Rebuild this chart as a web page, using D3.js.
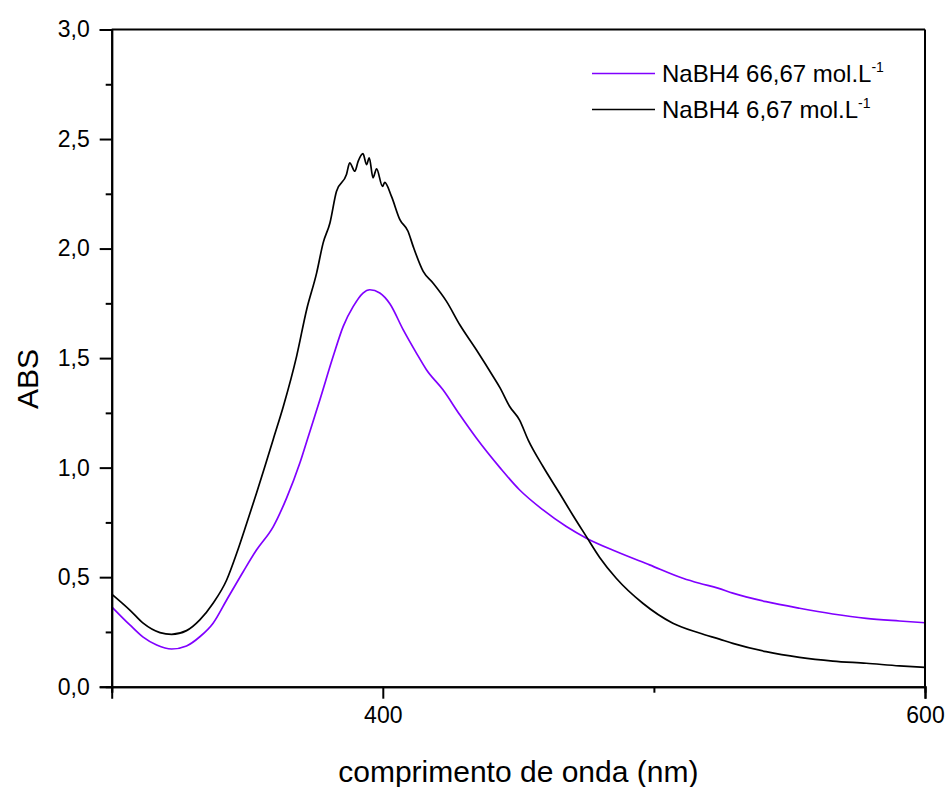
<!DOCTYPE html>
<html>
<head>
<meta charset="utf-8">
<script src="https://cdn.jsdelivr.net/npm/d3@7"></script>
<style>
  body { margin: 0; background: #fff; }
  text { font-family: Arial, "Liberation Sans", sans-serif; fill: #000; }
</style>
</head>
<body>
<div id="chart"></div>
<script>
// wavelength (nm) and absorbance
var wlBlack = [300,306.7,311.6,317.8,322.1,327.6,332.5,337.4,342.4,346.1,349.8,353.4,356.5,359.6,363.3,368.2,371.9,375.6,378.0,380.5,382.9,386.6,387.8,389.7,390.9,392.7,394.0,395.0,396.4,397.7,399.9,400.7,403.2,406.3,409.3,411.2,414.9,418.5,423.5,428.4,434.5,440.7,443.2,446.8,450.4,453.6,459.1,465.2,470.0,475.1,480.0,486.1,495.9,507.0,516.8,524.2,529.1,541.4,553.7,566.0,578.3,590.6,600]
var absBlack = [0.423,0.35,0.29,0.247,0.239,0.256,0.305,0.381,0.487,0.609,0.746,0.883,1.005,1.13,1.279,1.508,1.721,1.889,2.026,2.117,2.261,2.338,2.391,2.353,2.398,2.433,2.383,2.414,2.323,2.364,2.284,2.302,2.238,2.132,2.079,2.010,1.896,1.843,1.759,1.652,1.538,1.416,1.365,1.279,1.218,1.127,1.005,0.883,0.785,0.685,0.590,0.495,0.381,0.290,0.245,0.217,0.198,0.160,0.134,0.117,0.107,0.095,0.088]

var wlPurple = [300,306.7,311.6,316.6,322.1,327.6,332.5,337.4,342.4,348.5,353.4,359.6,364.5,369.4,372.2,376.8,381.7,385.4,389.1,392.7,395.2,398.9,402.6,407.5,412.4,416.1,422.2,428.4,434.5,443.2,450.4,459.1,467.7,475.1,486.1,498.4,510.7,516.8,523.6,529.1,541.4,553.7,566.0,578.3,590.6,600]
var absPurple = [0.365,0.282,0.226,0.190,0.172,0.186,0.228,0.290,0.396,0.525,0.624,0.731,0.861,1.021,1.13,1.310,1.508,1.645,1.736,1.797,1.812,1.797,1.748,1.630,1.523,1.447,1.355,1.241,1.135,1.0,0.899,0.807,0.731,0.678,0.617,0.556,0.495,0.472,0.450,0.427,0.388,0.358,0.332,0.312,0.300,0.292]

var seriesNames = ["NaBH4 66,67 mol.L", "NaBH4 6,67 mol.L"]
var seriesColors = ["#8000ff", "#000000"]

var xMajor = [400, 600]
var xMinor = [300, 500]
var yMajor = [0, 0.5, 1.0, 1.5, 2.0, 2.5, 3.0]
var yMinor = [0.25, 0.75, 1.25, 1.75, 2.25, 2.75]

var width = 949, height = 787
var margin = {top: 29.5, right: 24, bottom: 100.3, left: 111.7}
var w = width - margin.left - margin.right
var h = height - margin.top - margin.bottom

var svg = d3.select("#chart").append("svg")
  .attr("width", width)
  .attr("height", height)

var g = svg.append("g")
  .attr("transform", "translate(" + margin.left + "," + margin.top + ")")

var x = d3.scaleLinear().domain([300, 600]).range([0, w])
var y = d3.scaleLinear().domain([0, 3]).range([h, 0])

var comma = function(d) { return d3.format(".1f")(d).replace(".", ",") }

// curves
var line = d3.line()
  .x(function(d) { return x(d[0]) })
  .y(function(d) { return y(d[1]) })
  .curve(d3.curveMonotoneX)

var purple = d3.zip(wlPurple, absPurple)
var black = d3.zip(wlBlack, absBlack)

g.append("path").datum(purple)
  .attr("d", line).attr("fill", "none")
  .attr("stroke", seriesColors[0]).attr("stroke-width", 1.7)

g.append("path").datum(black)
  .attr("d", line).attr("fill", "none")
  .attr("stroke", seriesColors[1]).attr("stroke-width", 1.7)

// frame
g.append("line").attr("x1", 0).attr("x2", w).attr("y1", 0).attr("y2", 0)
  .attr("stroke", "#000").attr("stroke-width", 2)
g.append("line").attr("x1", w).attr("x2", w).attr("y1", 0).attr("y2", h)
  .attr("stroke", "#000").attr("stroke-width", 2)

// x axis
g.append("g").attr("transform", "translate(0," + h + ")")
  .call(d3.axisBottom(x).tickValues(xMinor).tickSize(6).tickFormat(""))
g.append("g").attr("transform", "translate(0," + h + ")")
  .call(d3.axisBottom(x).tickValues(xMajor).tickSize(12).tickPadding(8).tickFormat(d3.format("d")))

// y axis
g.append("g")
  .call(d3.axisLeft(y).tickValues(yMinor).tickSize(6).tickFormat(""))
g.append("g")
  .call(d3.axisLeft(y).tickValues(yMajor).tickSize(12).tickPadding(10).tickFormat(comma))

g.selectAll(".domain").attr("stroke-width", 2)
g.selectAll(".tick line").attr("stroke-width", 2)
g.selectAll(".tick text").style("font-size", "23px").style("font-family", "Arial, 'Liberation Sans', sans-serif")

// axis titles
svg.append("text")
  .attr("x", margin.left + w / 2)
  .attr("y", 782)
  .style("text-anchor", "middle")
  .style("font-size", "30px")
  .text("comprimento de onda (nm)")

svg.append("text")
  .attr("transform", "translate(38,379) rotate(-90)")
  .style("text-anchor", "middle")
  .style("font-size", "30px")
  .text("ABS")

// legend
var legend = svg.append("g")
seriesNames.forEach(function(name, i) {
  var ly = 73.5 + i * 36
  legend.append("line")
    .attr("x1", 592).attr("x2", 655)
    .attr("y1", ly).attr("y2", ly)
    .attr("stroke", seriesColors[i]).attr("stroke-width", 1.7)
  var t = legend.append("text")
    .attr("x", 662).attr("y", ly + 8.5)
    .style("font-size", "24px")
  t.append("tspan").text(name)
  t.append("tspan").attr("dy", -10).style("font-size", "14px").text("-1")
})
</script>
</body>
</html>
